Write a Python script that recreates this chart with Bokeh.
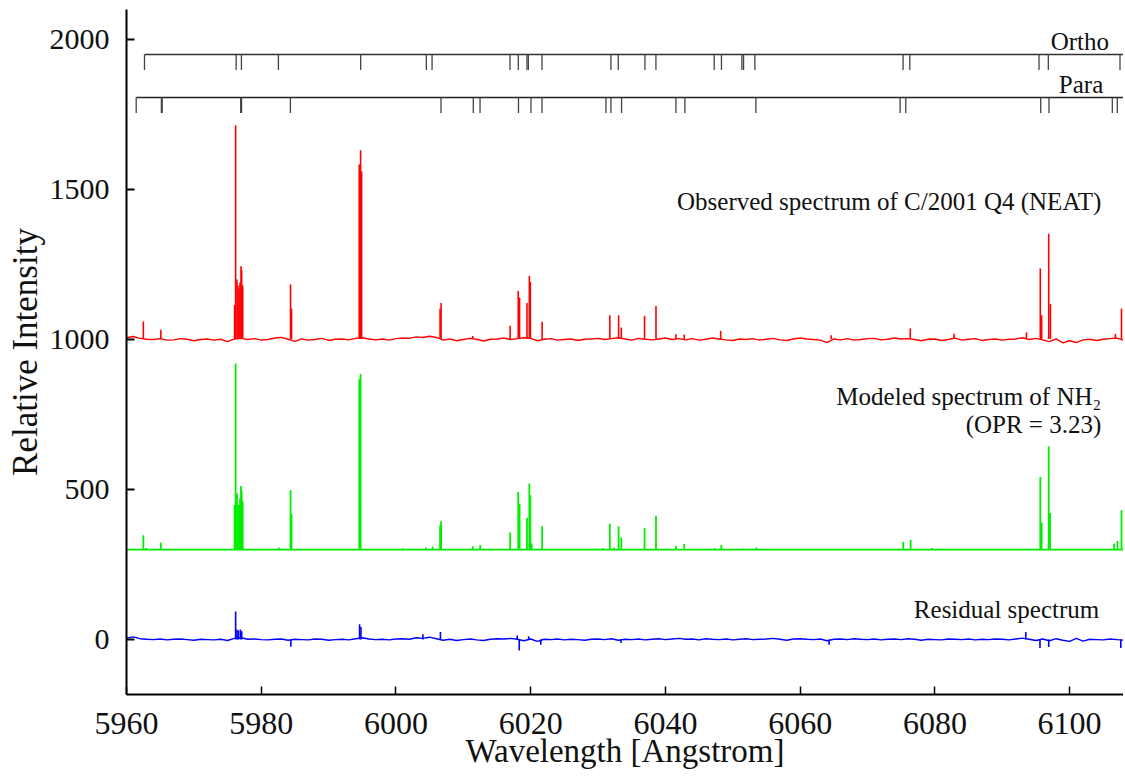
from bokeh.plotting import figure
from bokeh.models import Range1d, FixedTicker, Label
from bokeh.embed import file_html
from bokeh.resources import INLINE

# ---------------- data ----------------
x_ticks = [5960, 5980, 6000, 6020, 6040, 6060, 6080, 6100]
y_ticks = [0, 500, 1000, 1500, 2000]

# observed spectrum baseline, 1 Angstrom steps starting at 5960
obs_base = [1006, 1010, 1004, 1001, 1000, 1003, 998, 999, 1003, 1001,
            996, 1000, 1002, 998, 1001, 993, 1002, 1004, 1000, 1003,
            998, 1000, 1005, 1007, 1001, 994, 1002, 998, 1000, 1004,
            997, 1001, 1002, 999, 1004, 1006, 1002, 999, 1002, 998,
            1003, 1005, 1004, 1009, 1007, 1011, 1007, 998, 1002, 996,
            1000, 1004, 1001, 995, 1001, 1002, 1005, 1000, 1003, 1006,
            1004, 996, 1001, 1003, 998, 1000, 1002, 997, 1001, 1002,
            1004, 1000, 1003, 1006, 1002, 998, 1004, 1001, 999, 1002,
            1005, 1000, 1003, 999, 1003, 998, 1001, 1005, 1002, 999,
            997, 1002, 1000, 1003, 998, 1001, 1004, 999, 997, 1002,
            1005, 1002, 1000, 998, 990, 1002, 999, 1003, 998, 1000,
            1003, 1004, 999, 1001, 1005, 1002, 1003, 1000, 996, 1001,
            1002, 997, 1000, 1005, 998, 1001, 1003, 997, 1000, 1002,
            998, 1001, 1002, 1006, 1000, 1004, 999, 993, 1002, 989,
            996, 990, 999, 1001, 997, 1001, 1003, 1005, 998]
obs_peak_wl = [5962.5, 5965.1, 5976.05, 5976.2, 5976.4, 5976.55, 5976.7, 5976.85,
               5977.0, 5977.1, 5977.25, 5984.35, 5984.5, 5994.55, 5994.75, 5994.9,
               6006.55, 6006.7, 6011.4, 6016.95, 6018.15, 6018.35, 6019.45, 6019.8,
               6019.95, 6021.7, 6031.75, 6033.05, 6033.45, 6036.9, 6038.6, 6041.55,
               6042.8, 6048.2, 6064.6, 6076.35, 6082.85, 6093.6, 6095.65, 6095.85,
               6096.9, 6097.15, 6106.8, 6107.7]
obs_peak_top = [1060, 1033, 1115, 1714, 1200, 1180, 1170, 1190,
                1244, 1230, 1180, 1184, 1103, 1583, 1631, 1560,
                1103, 1122, 1012, 1046, 1162, 1140, 1122, 1212,
                1192, 1059, 1081, 1081, 1040, 1079, 1112, 1018,
                1017, 1029, 1014, 1037, 1019, 1024, 1237, 1081,
                1353, 1118, 1019, 1103]

# modeled spectrum (flat continuum + lines)
model_base_wl = [5960, 6110]
model_base = [300, 300]
model_peak_wl = [5962.5, 5962.9, 5965.1, 5976.05, 5976.2, 5976.4, 5976.55, 5976.7,
                 5976.85, 5977.0, 5977.1, 5977.25, 5982.6, 5984.35, 5984.5, 5994.55,
                 5994.75, 6001.0, 6004.45, 6005.45, 6006.55, 6006.7, 6011.4, 6012.5,
                 6015.1, 6016.95, 6018.15, 6018.35, 6019.45, 6019.8, 6019.95, 6020.15,
                 6021.7, 6029.8, 6030.7, 6031.75, 6032.4, 6033.05, 6033.45, 6036.9,
                 6038.6, 6041.55, 6042.8, 6047.3, 6048.3, 6051.6, 6053.5, 6075.3,
                 6076.4, 6079.6, 6095.65, 6095.85, 6096.9, 6097.1, 6106.6, 6107.1,
                 6107.7]
model_peak_top = [348, 305, 323, 448, 920, 487, 450, 448,
                  470, 512, 497, 460, 307, 498, 418, 868,
                  885, 304, 307, 310, 380, 394, 311, 315,
                  303, 357, 492, 453, 406, 520, 481, 320,
                  378, 304, 305, 386, 307, 377, 340, 372,
                  413, 312, 319, 305, 315, 304, 307, 326,
                  333, 305, 542, 390, 644, 422, 320, 329,
                  431]

# residual spectrum
resid_base = [5, 9, 3, 1, 0, 2, -1, 1, 2, 0,
              -2, 1, 0, -1, 1, -3, 4, 6, 1, 2,
              0, -1, 1, 2, -2, 1, 0, -1, 2, 1,
              -2, 0, 1, -1, 3, 6, 2, 0, 1, -1,
              2, 3, 1, 6, 4, 8, 3, -2, 1, -3,
              0, 2, -1, -3, 1, 3, 2, 4, 1, -4,
              2, -6, 1, 0, 2, -1, 1, 0, -2, 1,
              2, 0, 3, -2, 1, 0, 2, -1, 1, 3,
              0, 2, 4, 1, 2, -1, 3, 1, 0, 2,
              -1, 1, 3, 0, 1, 2, 4, 1, -2, 2,
              3, 1, 0, 2, -4, 1, 2, 0, 3, 1,
              0, 2, -1, 1, 2, 0, 3, 1, -2, 1,
              0, -1, 2, 1, 0, 2, -1, 1, 0, 2,
              1, -1, 2, 5, 1, -3, 2, -4, 3, -2,
              -6, 4, -5, 1, 0, -1, 2, 0, -2]
resid_peak_wl = [5976.2, 5976.4, 5976.6, 5976.9, 5977.1, 5984.4, 5994.6, 5994.8,
                 6004.0, 6006.6, 6018.0, 6018.3, 6019.7, 6021.5, 6033.4, 6064.3,
                 6093.5, 6095.6, 6096.9, 6107.6]
resid_peak_val = [94, 34, 30, 34, 28, -24, 51, 42,
                  18, 25, 14, -36, 11, -17, -11, -17,
                  25, -28, -25, -28]

# line positions of ortho and para NH2
ortho_lines = [5962.67, 5976.28, 5977.06, 5982.55, 5994.76, 6004.51, 6005.36, 6016.93,
               6018.16, 6019.45, 6019.65, 6021.68, 6031.91, 6033.0, 6036.96, 6038.59,
               6047.24, 6048.32, 6051.35, 6051.6, 6053.28, 6075.28, 6076.28, 6095.46,
               6096.84, 6107.48]
para_lines = [5961.44, 5965.18, 5965.3, 5976.95, 5977.08, 5984.33, 6006.69, 6011.48,
              6012.48, 6018.19, 6020.04, 6021.68, 6031.17, 6031.91, 6033.49, 6041.56,
              6042.89, 6053.43, 6074.84, 6075.68, 6095.71, 6096.94, 6106.34, 6107.08]

# ---------------- styling constants ----------------
OBS_LEVEL = 1002
MODEL_LEVEL = 300
RESID_LEVEL = 0
ORTHO_Y, ORTHO_Y2 = 1950, 1898
PARA_Y, PARA_Y2 = 1807, 1755
SERIF = "Liberation Serif"

p = figure(width=1123, height=775, output_backend="svg", toolbar_location=None,
           x_range=Range1d(5960, 6108.0), y_range=Range1d(-183, 2100),
           min_border_left=126, min_border_top=9, min_border_right=0,
           min_border_bottom=81, outline_line_color=None)
p.grid.visible = False

obs_wl = [5960 + i for i in range(len(obs_base))]
resid_wl = [5960 + i for i in range(len(resid_base))]

# observed
p.line(obs_wl, obs_base, line_color="#ff0000", line_width=1.4)
p.segment(x0=obs_peak_wl, y0=[OBS_LEVEL] * len(obs_peak_wl), x1=obs_peak_wl,
          y1=obs_peak_top, line_color="#ff0000", line_width=1.6)
# model
p.line(model_base_wl, model_base, line_color="#00ee00", line_width=1.6)
p.segment(x0=model_peak_wl, y0=[MODEL_LEVEL] * len(model_peak_wl), x1=model_peak_wl,
          y1=model_peak_top, line_color="#00ee00", line_width=1.8)
# residual
p.line(resid_wl, resid_base, line_color="#0000ff", line_width=1.4)
p.segment(x0=resid_peak_wl, y0=[RESID_LEVEL] * len(resid_peak_wl), x1=resid_peak_wl,
          y1=resid_peak_val, line_color="#0000ff", line_width=1.6)

# ortho / para line markers
p.segment(x0=[min(ortho_lines)], y0=[ORTHO_Y], x1=[6115], y1=[ORTHO_Y],
          line_color="#333333", line_width=1.3)
p.segment(x0=ortho_lines, y0=[ORTHO_Y] * len(ortho_lines), x1=ortho_lines,
          y1=[ORTHO_Y2] * len(ortho_lines), line_color="#444444", line_width=1.3)
p.segment(x0=[min(para_lines)], y0=[PARA_Y], x1=[6115], y1=[PARA_Y],
          line_color="#222222", line_width=1.5)
p.segment(x0=para_lines, y0=[PARA_Y] * len(para_lines), x1=para_lines,
          y1=[PARA_Y2] * len(para_lines), line_color="#444444", line_width=1.3)

# axes
xa = p.xaxis[0]
xa.ticker = FixedTicker(ticks=x_ticks)
xa.major_tick_in = 8
xa.major_tick_out = 0
xa.minor_tick_line_color = None
xa.axis_line_width = 2
xa.major_tick_line_width = 1.5
xa.major_label_text_font = SERIF
xa.major_label_text_font_size = "32px"
xa.major_label_text_color = "#111111"
xa.major_label_standoff = 18
xa.axis_label = "Wavelength [Angstrom]"
xa.axis_label_text_font = SERIF
xa.axis_label_text_font_size = "33px"
xa.axis_label_text_font_style = "normal"
xa.axis_label_text_color = "#111111"
xa.axis_label_standoff = -4

ya = p.yaxis[0]
ya.ticker = FixedTicker(ticks=y_ticks)
ya.major_tick_in = 8
ya.major_tick_out = 0
ya.minor_tick_line_color = None
ya.axis_line_width = 2
ya.major_tick_line_width = 2
ya.major_label_text_font = SERIF
ya.major_label_text_font_size = "30px"
ya.major_label_text_color = "#111111"
ya.major_label_standoff = 17
ya.axis_label = "Relative Intensity"
ya.axis_label_text_font = SERIF
ya.axis_label_text_font_size = "35px"
ya.axis_label_text_font_style = "normal"
ya.axis_label_text_color = "#111111"
ya.axis_label_standoff = 2

# annotations
def add_label(x, y, text):
    p.add_layout(Label(x=x, y=y, text=text, text_align="right", text_baseline="middle",
                       text_font=SERIF, text_font_size="25px", text_color="#111111"))

add_label(6105.85, 1993, "Ortho")
add_label(6105.0, 1850, "Para")
add_label(6104.7, 1460, "Observed spectrum of C/2001 Q4 (NEAT)")
add_label(6104.7, 810, "Modeled spectrum of NH\u2082")
add_label(6104.7, 717, "(OPR = 3.23)")
add_label(6104.4, 100, "Residual spectrum")

open("out.html", "w").write(file_html(p, INLINE))
